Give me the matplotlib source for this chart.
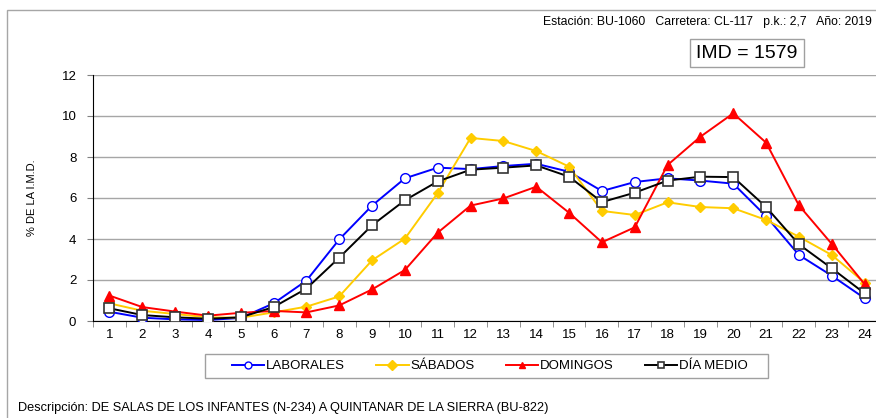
import matplotlib
matplotlib.use('Agg')
import matplotlib.pyplot as plt
from matplotlib.patches import Rectangle

plt.rcParams['font.family'] = ['Liberation Sans', 'DejaVu Sans']

horas = list(range(1, 25))
laborales = [0.45, 0.16, 0.08, 0.05, 0.15, 0.86, 1.97, 3.98, 5.63, 6.96, 7.48, 7.41,
             7.56, 7.67, 7.28, 6.34, 6.78, 6.96, 6.85, 6.70, 5.11, 3.22, 2.21, 1.11]
sabados = [0.86, 0.50, 0.34, 0.18, 0.16, 0.42, 0.70, 1.20, 2.96, 4.02, 6.24, 8.93,
           8.78, 8.29, 7.53, 5.37, 5.17, 5.79, 5.56, 5.50, 4.93, 4.11, 3.22, 1.87]
domingos = [1.24, 0.68, 0.46, 0.26, 0.40, 0.49, 0.42, 0.76, 1.54, 2.49, 4.31, 5.63,
            5.98, 6.55, 5.28, 3.84, 4.57, 7.61, 8.99, 10.13, 8.70, 5.64, 3.76, 1.80]
dia_medio = [0.62, 0.29, 0.18, 0.11, 0.18, 0.68, 1.58, 3.09, 4.67, 5.89, 6.81, 7.38,
             7.48, 7.59, 7.04, 5.80, 6.26, 6.85, 7.04, 7.02, 5.56, 3.74, 2.57, 1.35]

fig = plt.figure(figsize=(8.76, 4.18), dpi=100)
# marco exterior
fig.patches.append(Rectangle((7 / 876, -0.1), 1.1, (418 - 10) / 418 + 0.1,
                             transform=fig.transFigure, fill=False,
                             edgecolor='#a6a6a6', linewidth=1))

ax = fig.add_axes([93 / 876, 97 / 418, 788 / 876, 246 / 418])
ax.plot(horas, laborales, color='#0000ff', lw=1.4, marker='o', ms=7,
        mfc='white', mec='#0000ff', mew=1, label='LABORALES', zorder=3)
ax.plot(horas, sabados, color='#ffcc00', lw=1.4, marker='D', ms=5.5,
        mfc='#ffcc00', mec='#ffcc00', label='SÁBADOS', zorder=3)
ax.plot(horas, domingos, color='#ff0000', lw=1.4, marker='^', ms=7.5,
        mfc='#ff0000', mec='#ff0000', label='DOMINGOS', zorder=3)
ax.plot(horas, dia_medio, color='black', lw=1.4, marker='s', ms=7.5,
        mfc='white', mec='#333333', mew=1.2, label='DÍA MEDIO', zorder=4)

ax.set_xlim(0.5, 24.5)
ax.set_ylim(0, 12)
ax.set_xticks(horas)
ax.set_xticks([h + 0.5 for h in range(0, 25)], minor=True)
ax.set_yticks(range(0, 13, 2))
ax.tick_params(axis='x', which='major', length=0, labelsize=9.5, pad=6)
ax.tick_params(axis='x', which='minor', length=4, color='#808080')
ax.tick_params(axis='y', length=4, color='#808080', labelsize=9.5, pad=8)
ax.grid(axis='y', color='#a6a6a6', lw=1)
ax.set_axisbelow(True)
for s in ['top', 'right']:
    ax.spines[s].set_visible(False)
ax.spines['left'].set_color('black')
ax.spines['bottom'].set_color('black')

fig.text(32 / 876, 1 - 198 / 418, '% DE LA I.M.D.', rotation=90,
         ha='center', va='center', fontsize=8)

fig.text(872 / 876, 1 - 22 / 418,
         'Estación: BU-1060   Carretera: CL-117   p.k.: 2,7   Año: 2019',
         ha='right', va='center', fontsize=8.8)
fig.text(747 / 876, 1 - 53 / 418, 'IMD = 1579', ha='center', va='center',
         fontsize=14,
         bbox=dict(boxstyle='square,pad=0.3', fc='white', ec='#a0a0a0', lw=1))

# recuadro de la leyenda
fig.patches.append(Rectangle((205 / 876, 1 - 378 / 418), 563 / 876, 24 / 418,
                             transform=fig.transFigure, fill=False,
                             edgecolor='#a0a0a0', linewidth=1))
leg = fig.legend(loc='center', bbox_to_anchor=(490 / 876, 1 - 366 / 418),
                 ncol=4, fontsize=9.5, frameon=False, borderpad=0,
                 columnspacing=2.35, handlelength=2.45, handletextpad=0.15,
                 borderaxespad=0)
for h in leg.legend_handles:
    h.set_markersize(5)

fig.text(18 / 876, 1 - 408 / 418,
         'Descripción: DE SALAS DE LOS INFANTES (N-234) A QUINTANAR DE LA SIERRA (BU-822)',
         ha='left', va='center', fontsize=9.2)

fig.savefig('out.png', dpi=100)
